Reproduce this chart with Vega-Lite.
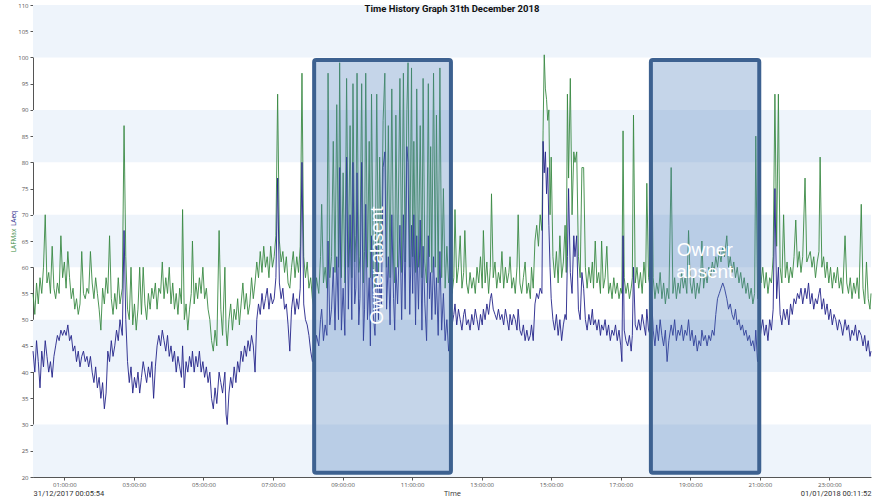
{
"$schema": "https://vega.github.io/schema/vega-lite/v6.json",
"width": 838, "height": 472,
"autosize": {"type": "none"},
"padding": {"left": 33, "top": 5, "right": 7, "bottom": 23},
"background": "white",
"config": {"view": {"stroke": null}, "axis": {"grid": false, "labelFont": "Open Sans", "titleFont": "Open Sans"}},
"title": {"text": "Time History Graph 31th December 2018", "anchor": "middle", "frame": "group", "offset": -9, "dy": 12, "baseline": "bottom", "font": "Roboto", "fontSize": 9.5, "fontWeight": "bold", "color": "#111111"},
"datasets": {
"bands": [{"lo":20,"hi":30},{"lo":40,"hi":50},{"lo":60,"hi":70},{"lo":80,"hi":90},{"lo":100,"hi":110}],
"absent": [{"from":491,"to":727,"low":20.8,"high":99.5},{"from":1072,"to":1259,"low":20.8,"high":99.5}],
"notes": [{"m":600,"level":60.3,"label":"Owner absent"},{"m":1165,"level":63.3,"label":"Owner\nabsent"}],
"series": [
{"m":6,"LAeq":44,"LAFMax":55},{"m":9,"LAeq":40,"LAFMax":51},{"m":12,"LAeq":46,"LAFMax":57},{"m":15,"LAeq":42,"LAFMax":53},{"m":18,"LAeq":37,"LAFMax":58},{"m":21,"LAeq":44,"LAFMax":55},{"m":24,"LAeq":41,"LAFMax":60},{"m":27,"LAeq":46,"LAFMax":70},{"m":30,"LAeq":43,"LAFMax":57},{"m":33,"LAeq":40,"LAFMax":59},{"m":36,"LAeq":42,"LAFMax":55},{"m":39,"LAeq":39,"LAFMax":64},{"m":42,"LAeq":43,"LAFMax":56},{"m":45,"LAeq":45,"LAFMax":54},{"m":48,"LAeq":47,"LAFMax":57},{"m":51,"LAeq":46,"LAFMax":55},{"m":54,"LAeq":48,"LAFMax":66},{"m":57,"LAeq":47,"LAFMax":58},{"m":60,"LAeq":48,"LAFMax":61},{"m":63,"LAeq":47,"LAFMax":56},{"m":66,"LAeq":49,"LAFMax":63},{"m":69,"LAeq":46,"LAFMax":58},{"m":72,"LAeq":47,"LAFMax":54},{"m":75,"LAeq":44,"LAFMax":56},{"m":78,"LAeq":45,"LAFMax":52},{"m":81,"LAeq":42,"LAFMax":54},{"m":84,"LAeq":44,"LAFMax":51},{"m":87,"LAeq":41,"LAFMax":53},{"m":90,"LAeq":43,"LAFMax":63},{"m":93,"LAeq":44,"LAFMax":55},{"m":96,"LAeq":42,"LAFMax":54},{"m":99,"LAeq":43,"LAFMax":56},{"m":102,"LAeq":41,"LAFMax":55},{"m":105,"LAeq":43,"LAFMax":63},{"m":108,"LAeq":40,"LAFMax":57},{"m":111,"LAeq":38,"LAFMax":54},{"m":114,"LAeq":41,"LAFMax":58},{"m":117,"LAeq":37,"LAFMax":55},{"m":120,"LAeq":39,"LAFMax":52},{"m":123,"LAeq":35,"LAFMax":48},{"m":126,"LAeq":38,"LAFMax":56},{"m":129,"LAeq":33,"LAFMax":53},{"m":132,"LAeq":36,"LAFMax":58},{"m":135,"LAeq":44,"LAFMax":55},{"m":138,"LAeq":42,"LAFMax":66},{"m":141,"LAeq":46,"LAFMax":54},{"m":144,"LAeq":43,"LAFMax":51},{"m":147,"LAeq":45,"LAFMax":55},{"m":150,"LAeq":48,"LAFMax":52},{"m":153,"LAeq":46,"LAFMax":58},{"m":156,"LAeq":50,"LAFMax":53},{"m":160,"LAeq":47,"LAFMax":56},{"m":163,"LAeq":67,"LAFMax":87},{"m":166,"LAeq":50,"LAFMax":62},{"m":169,"LAeq":42,"LAFMax":52},{"m":172,"LAeq":38,"LAFMax":50},{"m":175,"LAeq":41,"LAFMax":60},{"m":178,"LAeq":36,"LAFMax":49},{"m":181,"LAeq":39,"LAFMax":53},{"m":184,"LAeq":37,"LAFMax":48},{"m":187,"LAeq":40,"LAFMax":52},{"m":190,"LAeq":36,"LAFMax":60},{"m":193,"LAeq":39,"LAFMax":51},{"m":196,"LAeq":42,"LAFMax":60},{"m":199,"LAeq":40,"LAFMax":53},{"m":202,"LAeq":38,"LAFMax":50},{"m":205,"LAeq":41,"LAFMax":55},{"m":208,"LAeq":39,"LAFMax":52},{"m":211,"LAeq":42,"LAFMax":56},{"m":214,"LAeq":35,"LAFMax":54},{"m":217,"LAeq":41,"LAFMax":57},{"m":220,"LAeq":45,"LAFMax":52},{"m":223,"LAeq":47,"LAFMax":56},{"m":226,"LAeq":45,"LAFMax":55},{"m":229,"LAeq":48,"LAFMax":61},{"m":232,"LAeq":46,"LAFMax":54},{"m":235,"LAeq":44,"LAFMax":58},{"m":238,"LAeq":47,"LAFMax":55},{"m":241,"LAeq":43,"LAFMax":60},{"m":244,"LAeq":45,"LAFMax":53},{"m":247,"LAeq":42,"LAFMax":57},{"m":250,"LAeq":44,"LAFMax":52},{"m":253,"LAeq":40,"LAFMax":55},{"m":256,"LAeq":43,"LAFMax":51},{"m":259,"LAeq":41,"LAFMax":56},{"m":262,"LAeq":39,"LAFMax":53},{"m":264,"LAeq":45,"LAFMax":71},{"m":267,"LAeq":37,"LAFMax":50},{"m":270,"LAeq":42,"LAFMax":53},{"m":273,"LAeq":40,"LAFMax":48},{"m":276,"LAeq":43,"LAFMax":52},{"m":279,"LAeq":41,"LAFMax":55},{"m":281,"LAeq":44,"LAFMax":65},{"m":284,"LAeq":40,"LAFMax":53},{"m":287,"LAeq":43,"LAFMax":57},{"m":290,"LAeq":41,"LAFMax":54},{"m":293,"LAeq":44,"LAFMax":58},{"m":296,"LAeq":40,"LAFMax":55},{"m":299,"LAeq":42,"LAFMax":60},{"m":302,"LAeq":39,"LAFMax":54},{"m":305,"LAeq":41,"LAFMax":56},{"m":308,"LAeq":38,"LAFMax":52},{"m":311,"LAeq":40,"LAFMax":50},{"m":314,"LAeq":35,"LAFMax":46},{"m":317,"LAeq":33,"LAFMax":44},{"m":320,"LAeq":37,"LAFMax":48},{"m":323,"LAeq":34,"LAFMax":45},{"m":327,"LAeq":40,"LAFMax":67},{"m":330,"LAeq":38,"LAFMax":52},{"m":333,"LAeq":36,"LAFMax":47},{"m":337,"LAeq":40,"LAFMax":60},{"m":339,"LAeq":32,"LAFMax":48},{"m":341,"LAeq":30,"LAFMax":45},{"m":344,"LAeq":36,"LAFMax":50},{"m":347,"LAeq":39,"LAFMax":53},{"m":350,"LAeq":37,"LAFMax":48},{"m":353,"LAeq":41,"LAFMax":52},{"m":356,"LAeq":38,"LAFMax":50},{"m":359,"LAeq":42,"LAFMax":54},{"m":362,"LAeq":40,"LAFMax":49},{"m":365,"LAeq":44,"LAFMax":53},{"m":368,"LAeq":42,"LAFMax":57},{"m":371,"LAeq":45,"LAFMax":52},{"m":374,"LAeq":43,"LAFMax":55},{"m":377,"LAeq":46,"LAFMax":51},
{"m":380,"LAeq":44,"LAFMax":53},{"m":383,"LAeq":47,"LAFMax":58},{"m":386,"LAeq":45,"LAFMax":54},{"m":389,"LAeq":40,"LAFMax":57},{"m":392,"LAeq":50,"LAFMax":61},{"m":395,"LAeq":53,"LAFMax":58},{"m":398,"LAeq":51,"LAFMax":63},{"m":401,"LAeq":55,"LAFMax":59},{"m":404,"LAeq":52,"LAFMax":64},{"m":407,"LAeq":54,"LAFMax":60},{"m":410,"LAeq":56,"LAFMax":62},{"m":413,"LAeq":52,"LAFMax":58},{"m":416,"LAeq":55,"LAFMax":64},{"m":419,"LAeq":53,"LAFMax":60},{"m":422,"LAeq":54,"LAFMax":62},{"m":425,"LAeq":58,"LAFMax":66},{"m":428,"LAeq":77,"LAFMax":93},{"m":431,"LAeq":57,"LAFMax":65},{"m":434,"LAeq":54,"LAFMax":61},{"m":437,"LAeq":56,"LAFMax":63},{"m":440,"LAeq":52,"LAFMax":59},{"m":443,"LAeq":53,"LAFMax":62},{"m":446,"LAeq":49,"LAFMax":57},{"m":449,"LAeq":44,"LAFMax":56},{"m":452,"LAeq":52,"LAFMax":60},{"m":455,"LAeq":55,"LAFMax":63},{"m":458,"LAeq":51,"LAFMax":58},{"m":461,"LAeq":54,"LAFMax":62},{"m":464,"LAeq":52,"LAFMax":59},{"m":467,"LAeq":56,"LAFMax":64},{"m":470,"LAeq":80,"LAFMax":97},{"m":473,"LAeq":53,"LAFMax":62},{"m":476,"LAeq":50,"LAFMax":58},{"m":479,"LAeq":49,"LAFMax":61},{"m":482,"LAeq":47,"LAFMax":56},{"m":485,"LAeq":44,"LAFMax":58},{"m":488,"LAeq":42,"LAFMax":54},
{"m":491,"LAeq":43,"LAFMax":52},{"m":495,"LAeq":47,"LAFMax":58},{"m":499,"LAeq":45,"LAFMax":55},{"m":502,"LAeq":50,"LAFMax":62},{"m":504,"LAeq":52,"LAFMax":72},{"m":507,"LAeq":46,"LAFMax":57},{"m":510,"LAeq":49,"LAFMax":60},{"m":513,"LAeq":47,"LAFMax":56},{"m":515,"LAeq":65,"LAFMax":97},{"m":518,"LAeq":49,"LAFMax":58},{"m":521,"LAeq":52,"LAFMax":62},{"m":524,"LAeq":60,"LAFMax":84},{"m":527,"LAeq":48,"LAFMax":59},{"m":530,"LAeq":62,"LAFMax":91},{"m":533,"LAeq":50,"LAFMax":60},{"m":535,"LAeq":79,"LAFMax":99},{"m":538,"LAeq":48,"LAFMax":58},{"m":541,"LAeq":56,"LAFMax":78},{"m":544,"LAeq":47,"LAFMax":57},{"m":547,"LAeq":81,"LAFMax":96},{"m":550,"LAeq":52,"LAFMax":60},{"m":553,"LAeq":70,"LAFMax":87},{"m":556,"LAeq":50,"LAFMax":58},{"m":558,"LAeq":80,"LAFMax":95},{"m":561,"LAeq":53,"LAFMax":61},{"m":563,"LAeq":56,"LAFMax":66},{"m":565,"LAeq":78,"LAFMax":97},{"m":568,"LAeq":49,"LAFMax":59},{"m":570,"LAeq":54,"LAFMax":62},{"m":573,"LAeq":80,"LAFMax":95},{"m":576,"LAeq":46,"LAFMax":57},{"m":578,"LAeq":52,"LAFMax":63},{"m":580,"LAeq":72,"LAFMax":97},{"m":583,"LAeq":50,"LAFMax":60},{"m":586,"LAeq":58,"LAFMax":84},{"m":588,"LAeq":45,"LAFMax":58},{"m":590,"LAeq":66,"LAFMax":93},{"m":593,"LAeq":51,"LAFMax":60},{"m":596,"LAeq":47,"LAFMax":56},{"m":599,"LAeq":64,"LAFMax":93},{"m":602,"LAeq":50,"LAFMax":59},{"m":604,"LAeq":57,"LAFMax":81},{"m":607,"LAeq":53,"LAFMax":62},{"m":610,"LAeq":79,"LAFMax":88},{"m":613,"LAeq":82,"LAFMax":97},{"m":616,"LAeq":52,"LAFMax":60},{"m":619,"LAeq":62,"LAFMax":87},{"m":622,"LAeq":49,"LAFMax":58},{"m":625,"LAeq":70,"LAFMax":94},{"m":628,"LAeq":54,"LAFMax":61},{"m":630,"LAeq":48,"LAFMax":57},{"m":632,"LAeq":60,"LAFMax":89},{"m":635,"LAeq":53,"LAFMax":60},{"m":639,"LAeq":68,"LAFMax":96},{"m":642,"LAeq":50,"LAFMax":59},{"m":645,"LAeq":70,"LAFMax":97},{"m":648,"LAeq":52,"LAFMax":61},{"m":651,"LAeq":83,"LAFMax":90},{"m":653,"LAeq":80,"LAFMax":99},{"m":656,"LAeq":51,"LAFMax":60},{"m":659,"LAeq":68,"LAFMax":98},{"m":661,"LAeq":55,"LAFMax":62},{"m":663,"LAeq":70,"LAFMax":84},{"m":666,"LAeq":49,"LAFMax":59},{"m":668,"LAeq":66,"LAFMax":94},{"m":671,"LAeq":52,"LAFMax":60},{"m":674,"LAeq":69,"LAFMax":87},{"m":677,"LAeq":48,"LAFMax":58},{"m":679,"LAeq":64,"LAFMax":96},{"m":682,"LAeq":53,"LAFMax":61},{"m":685,"LAeq":46,"LAFMax":57},{"m":688,"LAeq":66,"LAFMax":95},{"m":690,"LAeq":54,"LAFMax":62},{"m":692,"LAeq":59,"LAFMax":83},{"m":694,"LAeq":50,"LAFMax":59},{"m":697,"LAeq":62,"LAFMax":97},{"m":700,"LAeq":51,"LAFMax":60},{"m":702,"LAeq":58,"LAFMax":89},{"m":705,"LAeq":47,"LAFMax":57},{"m":708,"LAeq":63,"LAFMax":98},{"m":711,"LAeq":48,"LAFMax":58},{"m":714,"LAeq":55,"LAFMax":75},{"m":717,"LAeq":46,"LAFMax":56},{"m":720,"LAeq":50,"LAFMax":64},{"m":723,"LAeq":44,"LAFMax":57},{"m":726,"LAeq":47,"LAFMax":59},{"m":729,"LAeq":49,"LAFMax":55},
{"m":732,"LAeq":51,"LAFMax":58},{"m":734,"LAeq":53,"LAFMax":71},{"m":737,"LAeq":49,"LAFMax":57},{"m":740,"LAeq":52,"LAFMax":60},{"m":743,"LAeq":50,"LAFMax":66},{"m":746,"LAeq":48,"LAFMax":56},{"m":749,"LAeq":51,"LAFMax":59},{"m":751,"LAeq":52,"LAFMax":67},{"m":754,"LAeq":49,"LAFMax":57},{"m":757,"LAeq":50,"LAFMax":55},{"m":760,"LAeq":48,"LAFMax":59},{"m":763,"LAeq":51,"LAFMax":56},{"m":766,"LAeq":49,"LAFMax":58},{"m":769,"LAeq":52,"LAFMax":55},{"m":772,"LAeq":50,"LAFMax":60},{"m":775,"LAeq":48,"LAFMax":57},{"m":778,"LAeq":51,"LAFMax":62},{"m":781,"LAeq":49,"LAFMax":56},{"m":783,"LAeq":52,"LAFMax":67},{"m":786,"LAeq":50,"LAFMax":57},{"m":789,"LAeq":53,"LAFMax":61},{"m":792,"LAeq":51,"LAFMax":55},{"m":795,"LAeq":54,"LAFMax":60},{"m":797,"LAeq":55,"LAFMax":74},{"m":800,"LAeq":52,"LAFMax":58},{"m":803,"LAeq":51,"LAFMax":61},{"m":806,"LAeq":50,"LAFMax":56},{"m":809,"LAeq":52,"LAFMax":59},{"m":812,"LAeq":50,"LAFMax":57},{"m":815,"LAeq":51,"LAFMax":63},{"m":818,"LAeq":49,"LAFMax":56},{"m":821,"LAeq":52,"LAFMax":60},{"m":824,"LAeq":50,"LAFMax":57},{"m":827,"LAeq":48,"LAFMax":59},{"m":829,"LAeq":51,"LAFMax":62},{"m":832,"LAeq":49,"LAFMax":56},{"m":835,"LAeq":51,"LAFMax":58},{"m":838,"LAeq":50,"LAFMax":55},{"m":841,"LAeq":48,"LAFMax":60},{"m":843,"LAeq":52,"LAFMax":70},{"m":846,"LAeq":48,"LAFMax":57},{"m":849,"LAeq":47,"LAFMax":55},{"m":852,"LAeq":49,"LAFMax":58},{"m":855,"LAeq":46,"LAFMax":61},{"m":858,"LAeq":48,"LAFMax":55},{"m":861,"LAeq":46,"LAFMax":57},{"m":864,"LAeq":47,"LAFMax":54},{"m":866,"LAeq":49,"LAFMax":60},{"m":869,"LAeq":46,"LAFMax":56},{"m":872,"LAeq":53,"LAFMax":65},{"m":875,"LAeq":55,"LAFMax":68},{"m":878,"LAeq":54,"LAFMax":64},{"m":881,"LAeq":56,"LAFMax":70},{"m":884,"LAeq":55,"LAFMax":67},{"m":886,"LAeq":84,"LAFMax":86},{"m":888,"LAeq":78,"LAFMax":100.5},{"m":890,"LAeq":82,"LAFMax":94},{"m":892,"LAeq":74,"LAFMax":92},{"m":894,"LAeq":79,"LAFMax":88},{"m":896,"LAeq":68,"LAFMax":90},{"m":898,"LAeq":60,"LAFMax":70},{"m":900,"LAeq":54,"LAFMax":81},{"m":903,"LAeq":50,"LAFMax":62},{"m":906,"LAeq":48,"LAFMax":58},{"m":909,"LAeq":51,"LAFMax":63},{"m":912,"LAeq":47,"LAFMax":57},{"m":915,"LAeq":50,"LAFMax":66},{"m":918,"LAeq":46,"LAFMax":58},{"m":921,"LAeq":49,"LAFMax":61},{"m":924,"LAeq":51,"LAFMax":68},{"m":926,"LAeq":50,"LAFMax":59},{"m":928,"LAeq":62,"LAFMax":93},{"m":930,"LAeq":75,"LAFMax":77},{"m":933,"LAeq":59,"LAFMax":96},{"m":936,"LAeq":55,"LAFMax":70},{"m":939,"LAeq":66,"LAFMax":82},{"m":941,"LAeq":62,"LAFMax":80},{"m":944,"LAeq":66,"LAFMax":82},{"m":947,"LAeq":52,"LAFMax":62},{"m":950,"LAeq":50,"LAFMax":58},{"m":953,"LAeq":59,"LAFMax":79},{"m":956,"LAeq":56,"LAFMax":79},{"m":959,"LAeq":50,"LAFMax":60},{"m":962,"LAeq":48,"LAFMax":56},{"m":965,"LAeq":51,"LAFMax":60},{"m":968,"LAeq":49,"LAFMax":57},{"m":971,"LAeq":52,"LAFMax":61},{"m":973,"LAeq":49,"LAFMax":56},{"m":976,"LAeq":50,"LAFMax":65},{"m":979,"LAeq":48,"LAFMax":57},{"m":982,"LAeq":50,"LAFMax":59},{"m":985,"LAeq":47,"LAFMax":55},{"m":987,"LAeq":49,"LAFMax":65},{"m":990,"LAeq":48,"LAFMax":56},{"m":993,"LAeq":50,"LAFMax":58},{"m":996,"LAeq":47,"LAFMax":64},{"m":999,"LAeq":49,"LAFMax":55},{"m":1002,"LAeq":46,"LAFMax":57},{"m":1005,"LAeq":48,"LAFMax":54},{"m":1008,"LAeq":47,"LAFMax":58},{"m":1011,"LAeq":49,"LAFMax":55},{"m":1014,"LAeq":46,"LAFMax":57},{"m":1017,"LAeq":48,"LAFMax":54},{"m":1020,"LAeq":45,"LAFMax":56},{"m":1022,"LAeq":42,"LAFMax":55},{"m":1024,"LAeq":66,"LAFMax":86},{"m":1026,"LAeq":48,"LAFMax":58},{"m":1029,"LAeq":46,"LAFMax":55},{"m":1032,"LAeq":45,"LAFMax":57},{"m":1035,"LAeq":47,"LAFMax":54},{"m":1038,"LAeq":44,"LAFMax":56},{"m":1040,"LAeq":47,"LAFMax":58},{"m":1042,"LAeq":60,"LAFMax":89},{"m":1045,"LAeq":49,"LAFMax":57},{"m":1048,"LAeq":48,"LAFMax":60},{"m":1051,"LAeq":50,"LAFMax":56},{"m":1054,"LAeq":48,"LAFMax":59},{"m":1057,"LAeq":51,"LAFMax":55},{"m":1060,"LAeq":49,"LAFMax":61},{"m":1063,"LAeq":47,"LAFMax":57},{"m":1065,"LAeq":52,"LAFMax":76},{"m":1068,"LAeq":48,"LAFMax":58},
{"m":1071,"LAeq":47,"LAFMax":56},{"m":1073,"LAeq":55,"LAFMax":90},{"m":1076,"LAeq":48,"LAFMax":58},{"m":1079,"LAeq":45,"LAFMax":54},{"m":1082,"LAeq":49,"LAFMax":57},{"m":1085,"LAeq":46,"LAFMax":55},{"m":1088,"LAeq":50,"LAFMax":59},{"m":1091,"LAeq":47,"LAFMax":54},{"m":1094,"LAeq":45,"LAFMax":57},{"m":1097,"LAeq":48,"LAFMax":53},{"m":1100,"LAeq":42,"LAFMax":56},{"m":1103,"LAeq":46,"LAFMax":54},{"m":1107,"LAeq":49,"LAFMax":79},{"m":1110,"LAeq":47,"LAFMax":55},{"m":1113,"LAeq":50,"LAFMax":58},{"m":1116,"LAeq":46,"LAFMax":54},{"m":1119,"LAeq":48,"LAFMax":57},{"m":1122,"LAeq":47,"LAFMax":55},{"m":1125,"LAeq":49,"LAFMax":59},{"m":1128,"LAeq":46,"LAFMax":56},{"m":1131,"LAeq":48,"LAFMax":58},{"m":1134,"LAeq":47,"LAFMax":55},{"m":1137,"LAeq":50,"LAFMax":67},{"m":1140,"LAeq":46,"LAFMax":57},{"m":1143,"LAeq":48,"LAFMax":55},{"m":1146,"LAeq":45,"LAFMax":58},{"m":1149,"LAeq":47,"LAFMax":54},{"m":1152,"LAeq":44,"LAFMax":57},{"m":1155,"LAeq":46,"LAFMax":55},{"m":1158,"LAeq":45,"LAFMax":58},{"m":1160,"LAeq":48,"LAFMax":65},{"m":1163,"LAeq":46,"LAFMax":56},{"m":1166,"LAeq":47,"LAFMax":59},{"m":1169,"LAeq":45,"LAFMax":57},{"m":1172,"LAeq":47,"LAFMax":60},{"m":1175,"LAeq":46,"LAFMax":58},{"m":1178,"LAeq":48,"LAFMax":61},{"m":1181,"LAeq":47,"LAFMax":59},{"m":1184,"LAeq":51,"LAFMax":62},{"m":1187,"LAeq":54,"LAFMax":60},{"m":1190,"LAeq":55,"LAFMax":63},{"m":1193,"LAeq":56,"LAFMax":61},{"m":1196,"LAeq":57,"LAFMax":64},{"m":1199,"LAeq":56,"LAFMax":62},{"m":1203,"LAeq":54,"LAFMax":66},{"m":1206,"LAeq":52,"LAFMax":60},{"m":1209,"LAeq":53,"LAFMax":62},{"m":1212,"LAeq":51,"LAFMax":59},{"m":1215,"LAeq":50,"LAFMax":61},{"m":1218,"LAeq":52,"LAFMax":58},{"m":1221,"LAeq":49,"LAFMax":60},{"m":1224,"LAeq":50,"LAFMax":57},{"m":1227,"LAeq":48,"LAFMax":59},{"m":1230,"LAeq":49,"LAFMax":56},{"m":1233,"LAeq":47,"LAFMax":58},{"m":1236,"LAeq":48,"LAFMax":55},{"m":1239,"LAeq":46,"LAFMax":57},{"m":1242,"LAeq":47,"LAFMax":54},{"m":1245,"LAeq":45,"LAFMax":56},{"m":1248,"LAeq":46,"LAFMax":53},{"m":1251,"LAeq":44,"LAFMax":55},{"m":1253,"LAeq":48,"LAFMax":85},{"m":1256,"LAeq":42,"LAFMax":54},
{"m":1259,"LAeq":45,"LAFMax":60},{"m":1262,"LAeq":48,"LAFMax":57},{"m":1265,"LAeq":50,"LAFMax":60},{"m":1268,"LAeq":47,"LAFMax":56},{"m":1271,"LAeq":49,"LAFMax":59},{"m":1274,"LAeq":46,"LAFMax":55},{"m":1277,"LAeq":50,"LAFMax":58},{"m":1280,"LAeq":48,"LAFMax":57},{"m":1283,"LAeq":52,"LAFMax":62},{"m":1286,"LAeq":75,"LAFMax":93},{"m":1289,"LAeq":54,"LAFMax":64},{"m":1292,"LAeq":60,"LAFMax":93},{"m":1295,"LAeq":51,"LAFMax":60},{"m":1298,"LAeq":49,"LAFMax":57},{"m":1301,"LAeq":52,"LAFMax":70},{"m":1304,"LAeq":50,"LAFMax":58},{"m":1307,"LAeq":52,"LAFMax":61},{"m":1310,"LAeq":49,"LAFMax":57},{"m":1313,"LAeq":53,"LAFMax":60},{"m":1316,"LAeq":51,"LAFMax":58},{"m":1319,"LAeq":54,"LAFMax":62},{"m":1322,"LAeq":53,"LAFMax":69},{"m":1325,"LAeq":55,"LAFMax":60},{"m":1328,"LAeq":54,"LAFMax":63},{"m":1331,"LAeq":56,"LAFMax":59},{"m":1334,"LAeq":53,"LAFMax":62},{"m":1338,"LAeq":56,"LAFMax":77},{"m":1341,"LAeq":54,"LAFMax":61},{"m":1344,"LAeq":57,"LAFMax":62},{"m":1347,"LAeq":53,"LAFMax":63},{"m":1350,"LAeq":55,"LAFMax":60},{"m":1353,"LAeq":52,"LAFMax":62},{"m":1356,"LAeq":54,"LAFMax":58},{"m":1359,"LAeq":53,"LAFMax":61},{"m":1362,"LAeq":55,"LAFMax":63},{"m":1364,"LAeq":56,"LAFMax":81},{"m":1367,"LAeq":52,"LAFMax":60},{"m":1370,"LAeq":54,"LAFMax":62},{"m":1373,"LAeq":51,"LAFMax":58},{"m":1376,"LAeq":53,"LAFMax":61},{"m":1379,"LAeq":50,"LAFMax":57},{"m":1382,"LAeq":52,"LAFMax":60},{"m":1385,"LAeq":49,"LAFMax":56},{"m":1388,"LAeq":51,"LAFMax":59},{"m":1391,"LAeq":50,"LAFMax":57},{"m":1394,"LAeq":48,"LAFMax":60},{"m":1397,"LAeq":50,"LAFMax":56},{"m":1400,"LAeq":49,"LAFMax":58},{"m":1403,"LAeq":47,"LAFMax":55},{"m":1407,"LAeq":50,"LAFMax":66},{"m":1410,"LAeq":48,"LAFMax":57},{"m":1413,"LAeq":49,"LAFMax":55},{"m":1416,"LAeq":46,"LAFMax":58},{"m":1419,"LAeq":48,"LAFMax":54},{"m":1422,"LAeq":47,"LAFMax":57},{"m":1425,"LAeq":49,"LAFMax":55},{"m":1428,"LAeq":46,"LAFMax":58},{"m":1431,"LAeq":48,"LAFMax":54},{"m":1435,"LAeq":47,"LAFMax":72},{"m":1438,"LAeq":45,"LAFMax":56},{"m":1441,"LAeq":47,"LAFMax":53},{"m":1444,"LAeq":44,"LAFMax":61},{"m":1447,"LAeq":46,"LAFMax":54},{"m":1450,"LAeq":43,"LAFMax":52},{"m":1451.8,"LAeq":44,"LAFMax":55}
]
},
"layer": [
{"data": {"name": "bands"},
 "mark": {"type": "rect", "color": "#eef4fb"},
 "encoding": {
  "y": {"field": "lo", "type": "quantitative", "scale": {"domain": [20, 110], "nice": false, "zero": false}, "axis": null},
  "y2": {"field": "hi"}}},
{"data": {"name": "series"},
 "mark": {"type": "line", "color": "#3a8a44", "strokeWidth": 1, "opacity": 0.9},
 "encoding": {
  "x": {"field": "m", "type": "quantitative", "scale": {"domain": [5.9, 1451.8], "nice": false, "zero": false},
   "axis": {"orient": "bottom", "values": [60,180,300,420,540,660,780,900,1020,1140,1260,1380], "labelExpr": "utcFormat(datum.value*60000, '%H:%M:%S')", "labelFontSize": 6, "labelColor": "#555555", "labelPadding": 1, "tickSize": 3, "tickColor": "#555555", "domainColor": "#555555", "title": "Time", "titleFontSize": 7.5, "titleFontWeight": "normal", "titleColor": "#333333", "titleY": 16, "titleBaseline": "middle"}},
  "y": {"field": "LAFMax", "type": "quantitative", "scale": {"domain": [20, 110], "nice": false, "zero": false},
   "axis": {"orient": "left", "values": [20,25,30,35,40,45,50,55,60,65,70,75,80,85,90,95,100,105,110], "labelFontSize": 6, "labelColor": "#555555", "labelPadding": 2, "tickSize": 3, "tickColor": "#555555", "domainColor": "#555555", "title": "LAFMax", "titleColor": "#3a8a44", "titleFontSize": 6.5, "titleFontWeight": "normal", "titleAngle": 270, "titleX": -20, "titleY": 235, "titleAlign": "center", "titleBaseline": "middle"}}}},
{"data": {"name": "series"},
 "mark": {"type": "line", "color": "#23238a", "strokeWidth": 1, "opacity": 0.9},
 "encoding": {
  "x": {"field": "m", "type": "quantitative", "scale": {"domain": [5.9, 1451.8], "nice": false, "zero": false}, "axis": null},
  "y": {"field": "LAeq", "type": "quantitative", "scale": {"domain": [20, 110], "nice": false, "zero": false},
   "axis": {"orient": "left", "labels": false, "ticks": false, "domain": false, "title": "LAeq", "titleColor": "#2b2b8c", "titleFontSize": 6.5, "titleFontWeight": "normal", "titleAngle": 270, "titleX": -20, "titleY": 213, "titleAlign": "center", "titleBaseline": "middle"}}}},
{"data": {"name": "absent"},
 "mark": {"type": "rect", "fill": "#4f81bd", "fillOpacity": 0.33, "stroke": "#3d6190", "strokeWidth": 4, "cornerRadius": 2},
 "encoding": {
  "x": {"field": "from", "type": "quantitative", "scale": {"domain": [5.9, 1451.8], "nice": false, "zero": false},
   "axis": {"orient": "bottom", "values": [5.9, 1451.8], "labelExpr": "datum.value < 100 ? '31/12/2017 00:05:54' : '01/01/2018 00:11:52'", "labelAlign": {"condition": {"test": "datum.value < 100", "value": "left"}, "value": "right"}, "labelFontSize": 7.5, "labelFont": "Roboto", "labelColor": "#333333", "labelPadding": 12, "ticks": false, "domain": false, "title": null, "labelFlush": false, "labelOverlap": false, "labelBound": false}},
  "x2": {"field": "to"},
  "y": {"field": "low", "type": "quantitative", "scale": {"domain": [20, 110], "nice": false, "zero": false}, "axis": null},
  "y2": {"field": "high"}}},
{"data": {"name": "notes"},
 "transform": [{"filter": "datum.m < 1000"}],
 "mark": {"type": "text", "angle": 270, "align": "center", "baseline": "middle", "font": "Liberation Sans", "fontSize": 19, "color": "white"},
 "encoding": {
  "x": {"field": "m", "type": "quantitative", "scale": {"domain": [5.9, 1451.8], "nice": false, "zero": false}, "axis": null},
  "y": {"field": "level", "type": "quantitative", "scale": {"domain": [20, 110], "nice": false, "zero": false}, "axis": null},
  "text": {"field": "label"}}},
{"data": {"name": "notes"},
 "transform": [{"filter": "datum.m > 1000"}],
 "mark": {"type": "text", "align": "center", "baseline": "middle", "lineBreak": "\n", "lineHeight": 22, "font": "Liberation Sans", "fontSize": 19, "color": "white"},
 "encoding": {
  "x": {"field": "m", "type": "quantitative", "scale": {"domain": [5.9, 1451.8], "nice": false, "zero": false}, "axis": null},
  "y": {"field": "level", "type": "quantitative", "scale": {"domain": [20, 110], "nice": false, "zero": false}, "axis": null},
  "text": {"field": "label"}}}
],
"resolve": {"axis": {"x": "independent", "y": "independent"}}
}
